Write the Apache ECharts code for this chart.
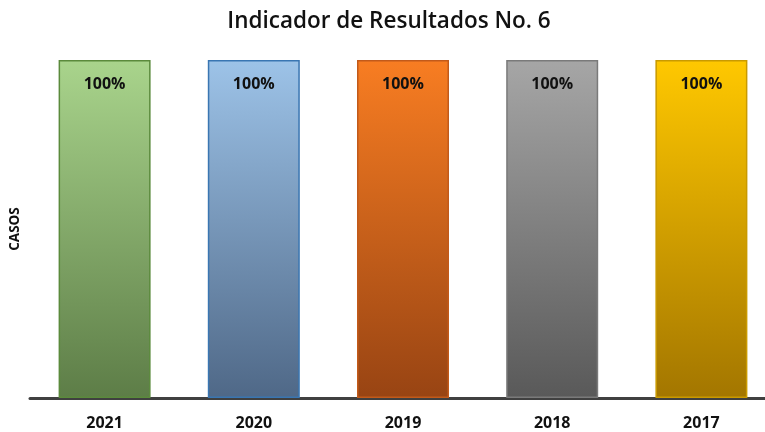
<!DOCTYPE html>
<html>
<head>
    <meta charset="utf-8">
    <title>Indicador de Resultados No. 6</title>
    <script type="text/javascript" src="https://cdn.jsdelivr.net/npm/echarts@6/dist/echarts.min.js"></script>
</head>
<style type="text/css">
    html, body { margin: 0; padding: 0; background: #fff; overflow: hidden; }
    /* plot runs a little past the right edge of the window, like the original */
    #chart { width: 776px; height: 432px; }
</style>
<body>
    <div id="chart"></div>
    <script type="text/javascript">
        var years = ['2021', '2020', '2019', '2018', '2017'];
        var percentages = [100, 100, 100, 100, 100];

        // top colour, bottom colour, border
        var barStyles = [
            ['#a9d48c', '#5d7d47', '#5b8a3c'],
            ['#9dc3e8', '#4f6887', '#3a76b2'],
            ['#f87d22', '#984413', '#c25a1a'],
            ['#a6a6a6', '#595959', '#7a7a7a'],
            ['#ffc800', '#a37600', '#c99a00']
        ];

        var font = '"Open Sans", "Noto Sans", sans-serif';
        var chart = echarts.init(document.getElementById('chart'));

        var option = {
            animation: false,
            title: {
                text: 'Indicador de Resultados No. 6',
                left: 384,
                textAlign: 'center',
                top: 5,
                textStyle: { fontFamily: font, fontSize: 22.5, fontWeight: 600, color: '#111' }
            },
            grid: { left: 30, right: 0, top: 60, bottom: 34 },
            xAxis: {
                type: 'category',
                data: years,
                axisLine: { lineStyle: { color: '#404040', width: 3 } },
                axisTick: { show: false },
                axisLabel: { margin: 17, fontFamily: font, fontSize: 16, fontWeight: 'bold', color: '#111' }
            },
            yAxis: {
                type: 'value',
                min: 0,
                max: 100,
                name: 'CASOS',
                nameLocation: 'middle',
                nameGap: 8,
                nameRotate: 90,
                nameTextStyle: { fontFamily: font, fontSize: 13.5, fontWeight: 'bold', color: '#111' },
                axisLine: { show: false },
                axisTick: { show: false },
                axisLabel: { show: false },
                splitLine: { show: false }
            },
            series: [{
                type: 'bar',
                barWidth: 92,
                data: percentages.map(function (v, i) {
                    var s = barStyles[i];
                    return {
                        value: v,
                        itemStyle: {
                            color: new echarts.graphic.LinearGradient(0, 0, 0, 1, [
                                { offset: 0, color: s[0] },
                                { offset: 1, color: s[1] }
                            ]),
                            borderColor: s[2],
                            borderWidth: 1.5
                        }
                    };
                }),
                label: {
                    show: true,
                    position: 'insideTop',
                    distance: 16,
                    formatter: '{c}%',
                    fontFamily: font,
                    fontSize: 16,
                    fontWeight: 'bold',
                    color: '#111'
                }
            }]
        };
        chart.setOption(option);
    </script>
</body>
</html>
